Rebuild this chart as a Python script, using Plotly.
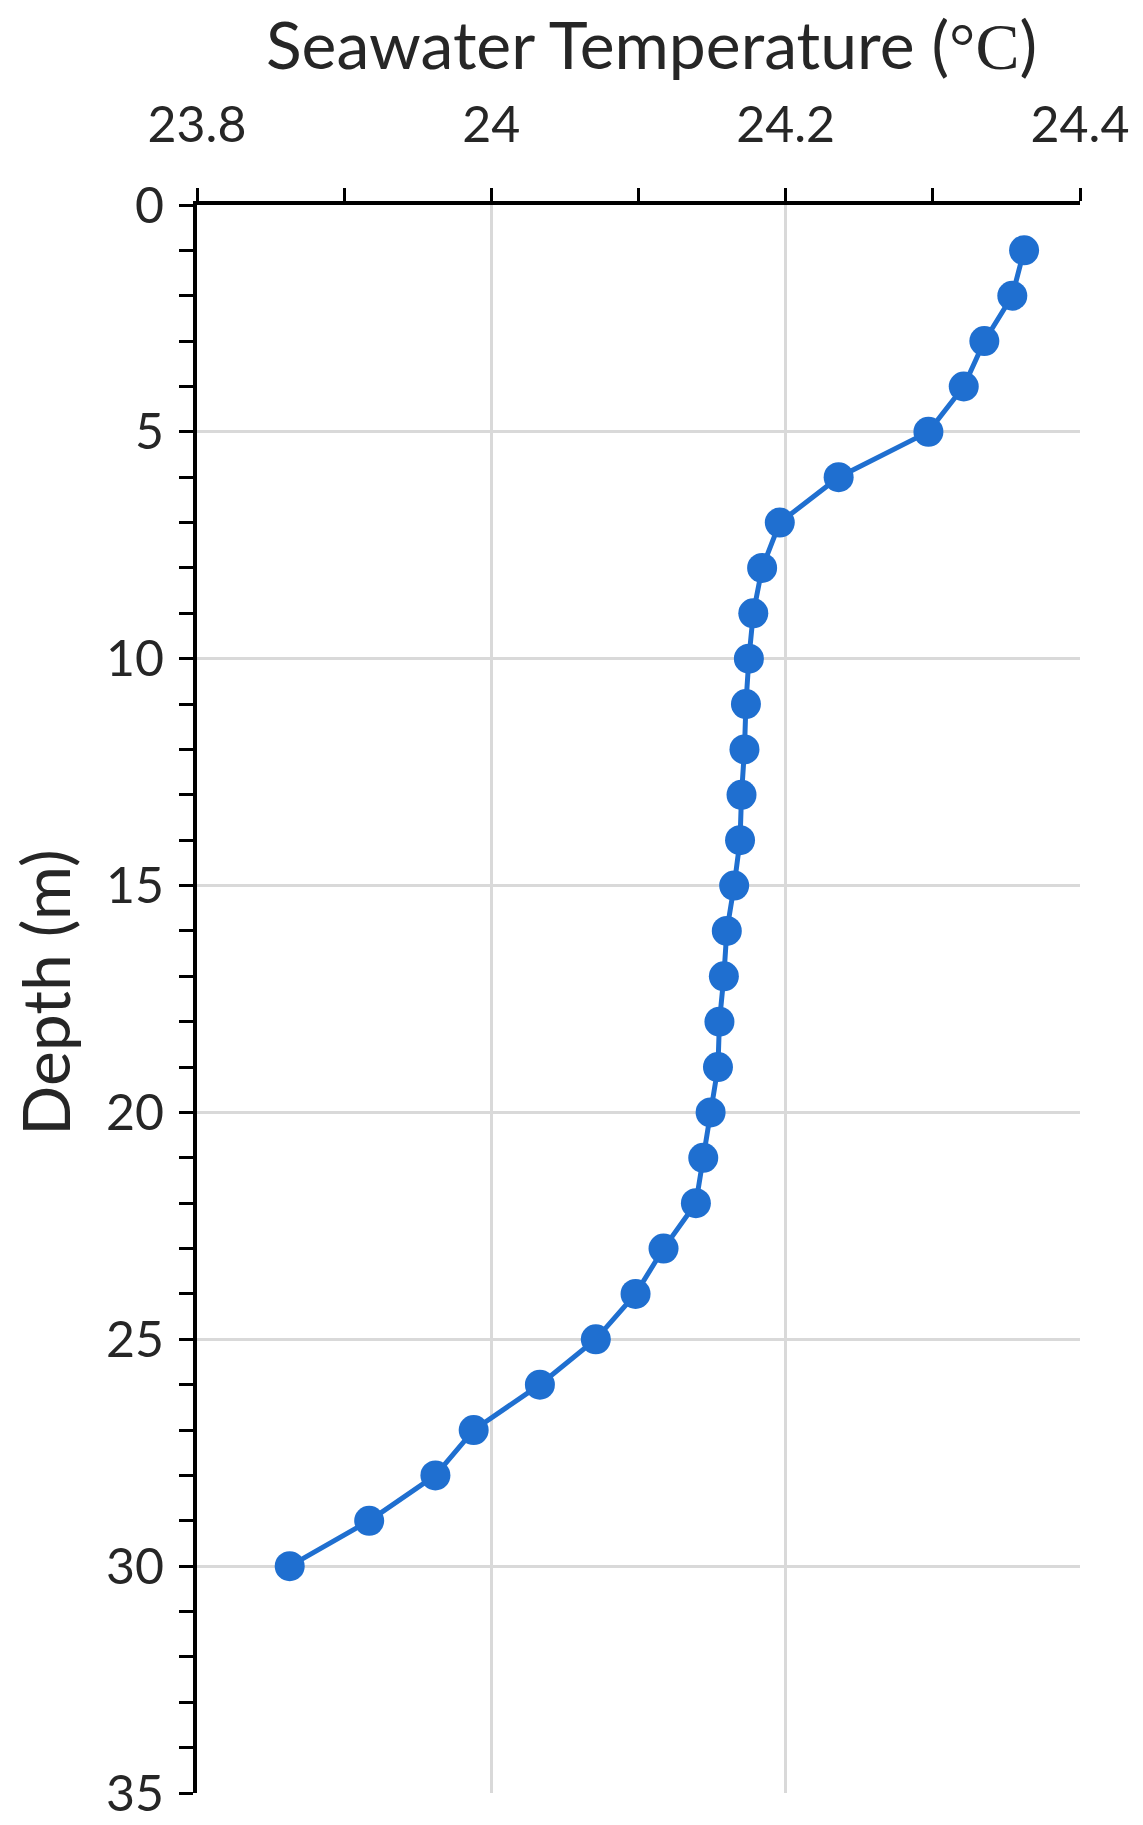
import plotly.graph_objects as go

depth = list(range(1, 31))
temperature = [
    24.362, 24.354, 24.335, 24.321, 24.297, 24.236, 24.196, 24.184, 24.178, 24.175,
    24.173, 24.172, 24.170, 24.169, 24.165, 24.160, 24.158, 24.155, 24.154, 24.149,
    24.144, 24.139, 24.117, 24.098, 24.071, 24.033, 23.988, 23.962, 23.917, 23.863,
]

x_ticks = [23.8, 24.0, 24.2, 24.4]
x_tick_labels = ["23.8", "24", "24.2", "24.4"]
y_ticks = [0, 5, 10, 15, 20, 25, 30, 35]

FONT = "Lato"
BLUE = "#1F6FD0"
GRID = "#D9D9D9"
TEXT = "#262626"

fig = go.Figure()

fig.add_trace(
    go.Scatter(
        x=temperature,
        y=depth,
        mode="lines+markers",
        line=dict(color=BLUE, width=5),
        marker=dict(color=BLUE, size=30),
        showlegend=False,
    )
)

fig.update_layout(
    width=1143,
    height=1825,
    margin=dict(l=197, r=63, t=205, b=32),
    paper_bgcolor="white",
    plot_bgcolor="white",
    font=dict(family=FONT, color=TEXT, size=50),
)

# axis titles placed as annotations so they sit where the original has them
fig.add_annotation(
    text="Seawater Temperature (<span style='font-family:Liberation Serif'>°C</span>)",
    xref="paper", yref="paper", x=0.515, y=1.102,
    xanchor="center", yanchor="middle", showarrow=False,
    font=dict(size=66, color=TEXT),
)
fig.add_annotation(
    text="Depth (m)",
    xref="paper", yref="paper", x=-0.172, y=0.504,
    xanchor="center", yanchor="middle", textangle=-90, showarrow=False,
    font=dict(size=66, color=TEXT),
)

fig.update_xaxes(
    side="top",
    range=[23.8, 24.4],
    automargin=False,
    tickvals=x_ticks,
    ticktext=x_tick_labels,
    ticks="outside",
    ticklen=13,
    tickwidth=3,
    tickcolor="black",
    ticklabelstandoff=26,
    minor=dict(dtick=0.1, tick0=23.8, ticks="outside", ticklen=13, tickwidth=3,
               tickcolor="black", showgrid=False),
    showline=True,
    linecolor="black",
    linewidth=4,
    showgrid=True,
    gridcolor=GRID,
    gridwidth=2.5,
    zeroline=False,
    tickfont=dict(size=50),
)

fig.update_yaxes(
    range=[35, 0],
    automargin=False,
    tickvals=y_ticks,
    ticks="outside",
    ticklen=14,
    tickwidth=3,
    tickcolor="black",
    ticklabelstandoff=5,
    minor=dict(dtick=1, tick0=0, ticks="outside", ticklen=14, tickwidth=3,
               tickcolor="black", showgrid=False),
    showline=True,
    linecolor="black",
    linewidth=4,
    showgrid=True,
    gridcolor=GRID,
    gridwidth=2.5,
    zeroline=False,
    tickfont=dict(size=50),
)

# drop the browser's default body margin so the figure fills the window
fig.write_html(
    "out.html",
    config={"displayModeBar": False},
    post_script="document.body.style.margin = '0';",
)
